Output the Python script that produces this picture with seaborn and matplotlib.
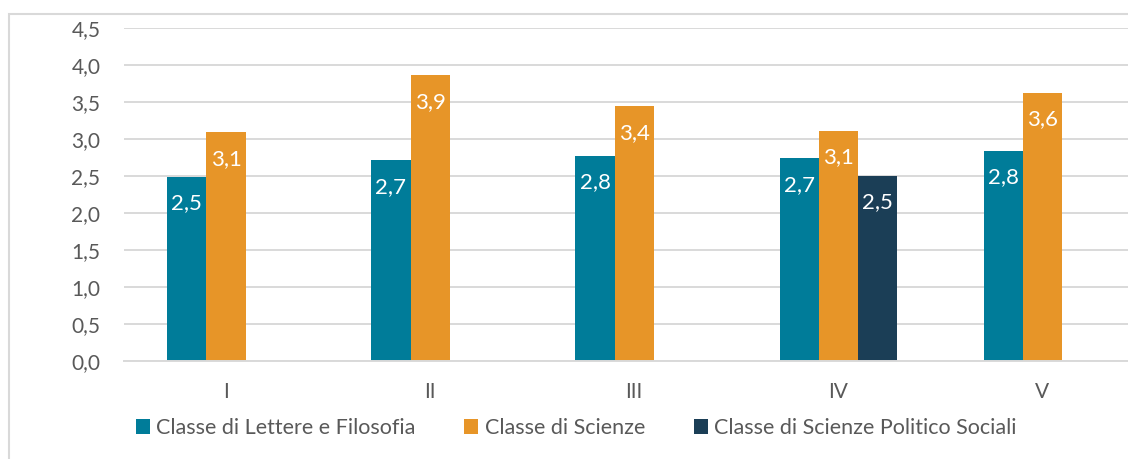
import matplotlib
matplotlib.use("Agg")
import matplotlib.pyplot as plt
from matplotlib.patches import Patch, Rectangle
from matplotlib.ticker import FuncFormatter, MultipleLocator
import pandas as pd
import seaborn as sns

# data
anni = ["I", "II", "III", "IV", "V"]
lettere = [2.49, 2.71, 2.77, 2.74, 2.84]
scienze = [3.09, 3.86, 3.44, 3.11, 3.62]
politico = [None, None, None, 2.50, None]

serie = ["Classe di Lettere e Filosofia", "Classe di Scienze",
         "Classe di Scienze Politico Sociali"]
colori = ["#007C99", "#E79528", "#1B3E56"]

rows = []
for nome, valori in zip(serie, [lettere, scienze, politico]):
    for a, v in zip(anni, valori):
        if v is not None:
            rows.append({"anno": a, "classe": nome, "valore": v})
df = pd.DataFrame(rows)

sns.set_theme(style="white")
plt.rcParams["font.family"] = ["Lato", "DejaVu Sans"]

fig = plt.figure(figsize=(11.28, 4.59), dpi=100)
ax = fig.add_axes([124 / 1128, 98 / 459, 1 - 124 / 1128, 333 / 459])

sns.barplot(data=df, x="anno", y="valore", hue="classe", order=anni,
            hue_order=serie, palette=colori, saturation=1, width=0.575,
            linewidth=0, errorbar=None, legend=False, ax=ax)

for cont in ax.containers:
    for bar in cont:
        h = bar.get_height()
        if h != h:
            continue
        ax.annotate(f"{h:.1f}".replace(".", ","),
                    (bar.get_x() + bar.get_width() / 2, h),
                    xytext=(0, -19), textcoords="offset points",
                    ha="center", va="center", color="white", fontsize=16)

ax.set_ylim(0, 4.5)
ax.set_xlim(-0.5, 4.42)
ax.yaxis.set_major_locator(MultipleLocator(0.5))
ax.yaxis.set_major_formatter(FuncFormatter(lambda v, p: f"{v:.1f}".replace(".", ",")))
ax.grid(axis="y", color="#D9D9D9", linewidth=1.4)
ax.set_axisbelow(True)
for s in ["top", "right", "left"]:
    ax.spines[s].set_visible(False)
ax.spines["bottom"].set_color("#D9D9D9")
ax.spines["bottom"].set_linewidth(1.4)
ax.tick_params(axis="y", length=0, pad=17, labelsize=15, labelcolor="#595959")
ax.tick_params(axis="x", length=0, pad=15, labelsize=15, labelcolor="#595959")
ax.set_xlabel("")
ax.set_ylabel("")

handles = [Patch(facecolor=c, edgecolor="none") for c in colori]
fig.legend(handles, serie, loc="center left", bbox_to_anchor=(136 / 1128, 1 - 428 / 459),
           ncol=3, frameon=False, fontsize=15.5, labelcolor="#595959",
           handlelength=0.65, handleheight=0.65, handletextpad=0.3,
           columnspacing=2.25, borderaxespad=0, borderpad=0)

fig.patches.append(Rectangle((9 / 1128, -0.05), 1.2, 1 - 14 / 459 + 0.05,
                             transform=fig.transFigure, fill=False,
                             edgecolor="#D9D9D9", linewidth=1.5))

fig.savefig("out.png", dpi=100)
